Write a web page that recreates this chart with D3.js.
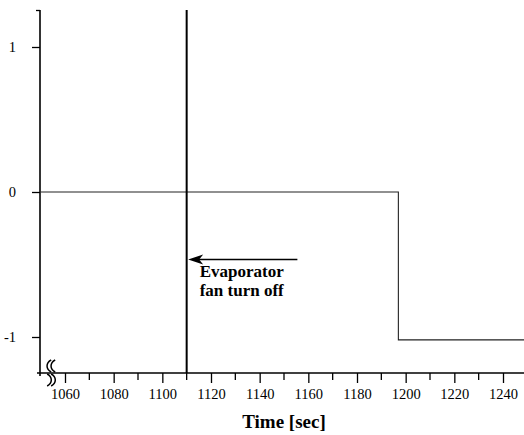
<!DOCTYPE html>
<html><head><meta charset="utf-8">
<script src="https://cdn.jsdelivr.net/npm/d3@7"></script>
<style>html,body{margin:0;padding:0;background:#fff;}svg{display:block;}</style>
</head><body>
<script>
const majorTicks = [1060,1080,1100,1120,1140,1160,1180,1200,1220,1240];
const minorTicks = [1070,1090,1110,1130,1150,1170,1190,1210,1230];
const yTicks = [-1,0,1];
const stepTimes = [1050, 1197, 1249];
const stepValues = [0, -1.02, -1.02];
const eventTime = 1110;
const annotationLines = ["Evaporator","fan turn off"];
const xTitle = "Time [sec]";

const W=524,H=435;
const svg=d3.select("body").append("svg").attr("width",W).attr("height",H);
const x=d3.scaleLinear().domain([1060,1240]).range([65,503]);
const y=d3.scaleLinear().domain([-1,1]).range([337,47]);
const axisY=373, axisX=40, topY=10;
const font="'Liberation Serif','Times New Roman',serif";

// x axis
const gx=svg.append("g").attr("transform",`translate(0,${axisY})`);
gx.append("line").attr("x1",37).attr("x2",W).attr("y1",0).attr("y2",0).attr("stroke","#000").attr("stroke-width",1.6);
gx.call(g=>{
  const ax=d3.axisBottom(x).tickValues(majorTicks).tickSize(10).tickPadding(6).tickFormat(d3.format("d"));
  g.call(ax);
  g.select(".domain").remove();
  g.selectAll(".tick line").attr("stroke","#000").attr("stroke-width",1.3);
  g.selectAll(".tick text").attr("font-family",font).attr("font-size",14.5).attr("fill","#000");
});
gx.append("g").selectAll("line").data(minorTicks).join("line")
  .attr("x1",d=>x(d)).attr("x2",d=>x(d)).attr("y1",0).attr("y2",7).attr("stroke","#000").attr("stroke-width",1.3);

// y axis
const gy=svg.append("g").attr("transform",`translate(${axisX},0)`);
gy.append("line").attr("x1",0).attr("x2",0).attr("y1",topY).attr("y2",axisY+3).attr("stroke","#000").attr("stroke-width",1.6);
gy.append("line").attr("x1",-4).attr("x2",0).attr("y1",topY+0.5).attr("y2",topY+0.5).attr("stroke","#000").attr("stroke-width",1.3);
gy.call(g=>{
  const ax=d3.axisLeft(y).tickValues(yTicks).tickSize(8).tickPadding(16).tickFormat(d3.format("d"));
  g.call(ax);
  g.select(".domain").remove();
  g.selectAll(".tick line").attr("stroke","#000").attr("stroke-width",1.3);
  g.selectAll(".tick text").attr("font-family",font).attr("font-size",14.5).attr("fill","#000").text(d=>d<0?"-"+Math.abs(d):d);
});

// axis break marks
const bx=x(1050);
const brk=svg.append("g").attr("fill","none").attr("stroke","#000").attr("stroke-width",1.5);
[[bx+8,axisY-13,-1],[bx+12,axisY-13,-1],[bx+9,axisY+1,1],[bx+13,axisY+1,1]].forEach(([cx,cy,dir])=>{
  const e = dir<0 ? 2.5 : -2.5;
  brk.append("path").attr("d",`M${cx+e},${cy} C${cx-e*1.2},${cy+3} ${cx-e*1.2},${cy+9} ${cx+e},${cy+12}`);
});

// data step line
const pts=stepTimes.map((t,i)=>({t,v:stepValues[i]}));
svg.append("path").datum(pts)
  .attr("d",d3.line().x(d=>x(d.t)).y(d=>y(d.v)).curve(d3.curveStepAfter))
  .attr("fill","none").attr("stroke","#222").attr("stroke-width",1.1);

// event vertical line
svg.append("line").attr("x1",x(eventTime)).attr("x2",x(eventTime)).attr("y1",topY).attr("y2",axisY)
  .attr("stroke","#000").attr("stroke-width",2);

// arrow
const ay=y(-0.465);
const ax0=x(eventTime)+1.5, ax1=x(1155.5);
svg.append("line").attr("x1",ax0+8).attr("x2",ax1).attr("y1",ay).attr("y2",ay).attr("stroke","#000").attr("stroke-width",1.6);
svg.append("path").attr("d",`M${ax0},${ay} L${ax0+15},${ay-5} L${ax0+11},${ay} L${ax0+15},${ay+5} Z`).attr("fill","#000");

// annotation text
svg.append("g").selectAll("text").data(annotationLines).join("text")
  .attr("x",x(eventTime)+13).attr("y",(d,i)=>277+i*19)
  .attr("font-family",font).attr("font-weight","bold").attr("font-size",17).attr("fill","#000").text(d=>d);

// x title
svg.append("text").attr("x",284).attr("y",428).attr("text-anchor","middle")
  .attr("font-family",font).attr("font-weight","bold").attr("font-size",19).attr("fill","#000").text(xTitle);
</script>
</body></html>
